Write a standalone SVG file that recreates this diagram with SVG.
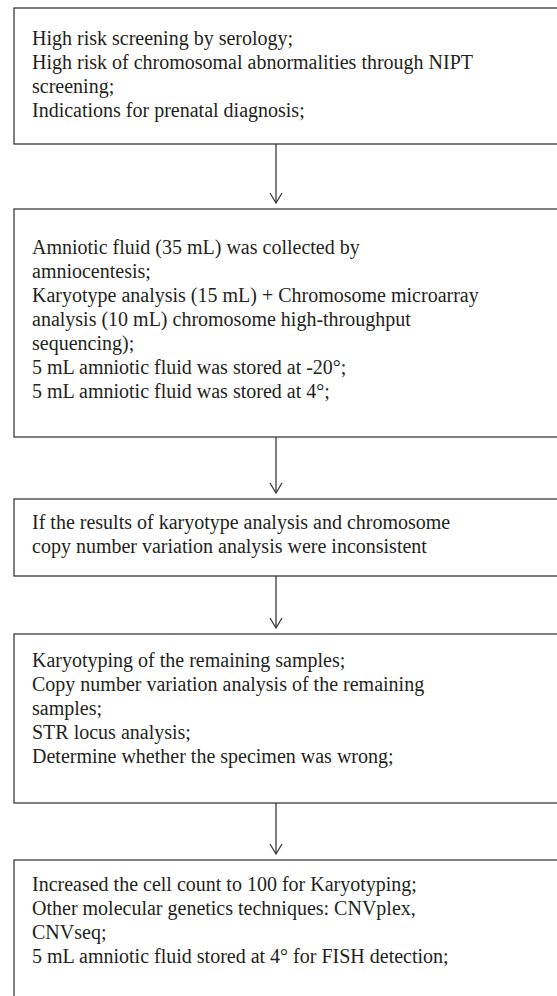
<svg xmlns="http://www.w3.org/2000/svg" width="557" height="996" viewBox="0 0 557 996">
<style>
  .box { fill: #ffffff; stroke: #3a3a3a; stroke-width: 1.3; }
  .t { font-family: "Liberation Serif", "Times New Roman", serif; font-size: 20px; fill: #231f20; }
  .conn { stroke: #3a3a3a; stroke-width: 1.3; fill: none; }
</style>
<defs>
  <marker id="arr" markerUnits="userSpaceOnUse" markerWidth="14" markerHeight="16" viewBox="-11 -8 13 16" refX="0" refY="0" orient="auto" overflow="visible">
    <path d="M-10,-6 L0,0 L-10,6" fill="none" stroke="#3a3a3a" stroke-width="1.3"/>
  </marker>
</defs>
<rect x="0" y="0" width="557" height="996" fill="#ffffff"/>
<g id="connectors">
  <line class="conn" x1="276" y1="144" x2="276" y2="203" marker-end="url(#arr)"/>
  <line class="conn" x1="276" y1="437" x2="276" y2="493" marker-end="url(#arr)"/>
  <line class="conn" x1="276" y1="576" x2="276" y2="628" marker-end="url(#arr)"/>
  <line class="conn" x1="276" y1="803" x2="276" y2="854" marker-end="url(#arr)"/>
</g>
<g id="node1">
  <rect class="box" x="14" y="8" width="560" height="136"/>
  <text class="t" x="32" y="45">High risk screening by serology;</text>
  <text class="t" x="32" y="69">High risk of chromosomal abnormalities through NIPT</text>
  <text class="t" x="32" y="93">screening;</text>
  <text class="t" x="32" y="117">Indications for prenatal diagnosis;</text>
</g>
<g id="node2">
  <rect class="box" x="14" y="209" width="560" height="228"/>
  <text class="t" x="32" y="254">Amniotic fluid (35 mL) was collected by</text>
  <text class="t" x="32" y="278">amniocentesis;</text>
  <text class="t" x="32" y="302">Karyotype analysis (15 mL) + Chromosome microarray</text>
  <text class="t" x="32" y="326">analysis (10 mL) chromosome high-throughput</text>
  <text class="t" x="32" y="350">sequencing);</text>
  <text class="t" x="32" y="374">5 mL amniotic fluid was stored at -20°;</text>
  <text class="t" x="32" y="398">5 mL amniotic fluid was stored at 4°;</text>
</g>
<g id="node3">
  <rect class="box" x="14" y="499" width="560" height="77"/>
  <text class="t" x="32" y="529">If the results of karyotype analysis and chromosome</text>
  <text class="t" x="32" y="553">copy number variation analysis were inconsistent</text>
</g>
<g id="node4">
  <rect class="box" x="14" y="634" width="560" height="169"/>
  <text class="t" x="32" y="667">Karyotyping of the remaining samples;</text>
  <text class="t" x="32" y="691">Copy number variation analysis of the remaining</text>
  <text class="t" x="32" y="715">samples;</text>
  <text class="t" x="32" y="739">STR locus analysis;</text>
  <text class="t" x="32" y="763">Determine whether the specimen was wrong;</text>
</g>
<g id="node5">
  <rect class="box" x="14" y="860" width="560" height="200"/>
  <text class="t" x="32" y="891">Increased the cell count to 100 for Karyotyping;</text>
  <text class="t" x="32" y="915">Other molecular genetics techniques: CNVplex,</text>
  <text class="t" x="32" y="939">CNVseq;</text>
  <text class="t" x="32" y="963">5 mL amniotic fluid stored at 4° for FISH detection;</text>
</g>
</svg>
